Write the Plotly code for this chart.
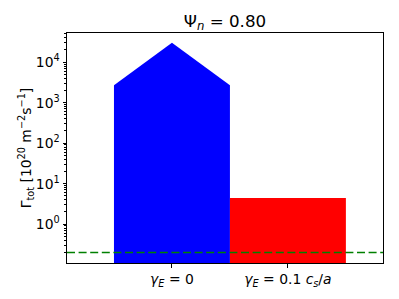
import plotly.graph_objects as go

# Data
categories = ["<i>γ<sub>E</sub></i> = 0", "<i>γ<sub>E</sub></i> = 0.1 <i>c<sub>s</sub></i>/<i>a</i>"]
x_positions = [0, 1]
bar_values = [2700, 4.4]
peak_values = [30000, None]
bar_colors = ["#0000ff", "#ff0000"]
threshold = 0.2
bar_width = 1.0
y_floor = 1e-3

fig = go.Figure()
for xc, v, pk, col in zip(x_positions, bar_values, peak_values, bar_colors):
    x0, x1 = xc - bar_width / 2, xc + bar_width / 2
    if pk is None:
        xs = [x0, x0, x1, x1, x0]
        ys = [y_floor, v, v, y_floor, y_floor]
    else:
        xs = [x0, x0, xc, x1, x1, x0]
        ys = [y_floor, v, pk, v, y_floor, y_floor]
    fig.add_trace(go.Scatter(x=xs, y=ys, mode="lines", fill="toself",
                             fillcolor=col, line=dict(width=0, color=col),
                             hoverinfo="skip", showlegend=False))

fig.add_shape(type="line", xref="paper", x0=0, x1=1, yref="y", y0=threshold, y1=threshold,
              line=dict(color="#008000", width=1.5, dash="8px,3.6px"), layer="above")

decades = list(range(0, 5))
major_vals = [10 ** d for d in decades]
major_text = ["10<sup>%d</sup>" % d for d in decades]
minor_vals = [m * 10 ** d for d in range(-1, 5) for m in range(2, 10)]

font = dict(family="DejaVu Sans", size=13.9, color="black")
fig.update_layout(
    width=391, height=291,
    margin=dict(l=59, r=16, t=25, b=36),
    plot_bgcolor="white", paper_bgcolor="white",
    font=font,
    title=dict(text="Ψ<sub><i>n</i></sub> = 0.80", x=0.555, xanchor="center",
               y=0.955, yanchor="middle", font=dict(family="DejaVu Sans", size=16.7, color="black")),
    xaxis=dict(range=[-0.905, 1.82], tickvals=x_positions, ticktext=categories,
               showline=True, linecolor="black", linewidth=1, mirror=True,
               ticks="outside", ticklen=3.5, tickcolor="black", showgrid=False, zeroline=False,
               tickfont=font, automargin=False),
    yaxis=dict(type="log", range=[-0.96, 4.72], tickvals=major_vals, ticktext=major_text,
               showline=True, linecolor="black", linewidth=1, mirror=True,
               ticks="outside", ticklen=3.5, tickcolor="black", showgrid=False, zeroline=False,
               minor=dict(tickvals=minor_vals, ticks="outside", ticklen=2, tickcolor="black"),
               title=dict(text="Γ<sub>tot</sub> [10<sup>20</sup> m<sup>−2</sup>s<sup>−1</sup>]",
                          font=font, standoff=0),
               tickfont=font, automargin=False),
)

fig.write_html("out.html")
